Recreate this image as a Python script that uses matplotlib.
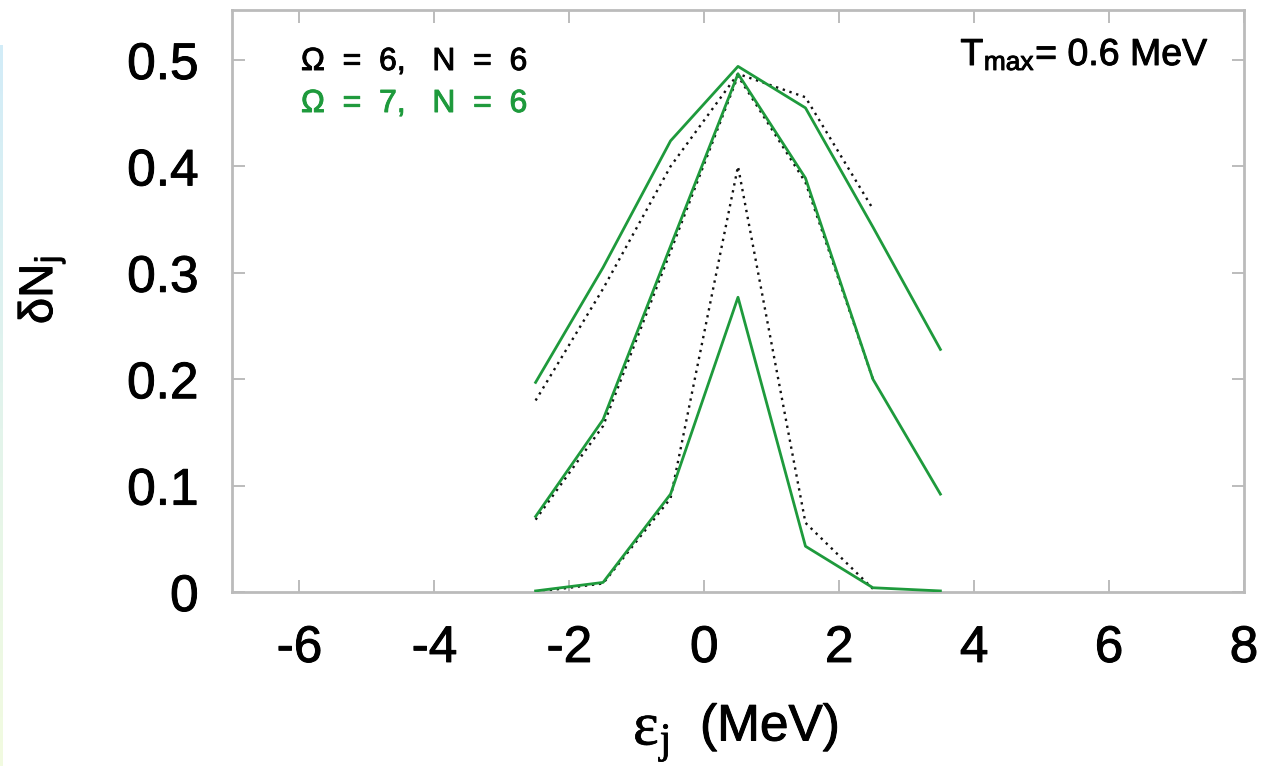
import numpy as np
import matplotlib
matplotlib.use("Agg")
import matplotlib.pyplot as plt
import matplotlib.patheffects as pe
from matplotlib.colors import LinearSegmentedColormap

plt.rcParams['font.family'] = ['Liberation Sans', 'DejaVu Sans']
plt.rcParams['mathtext.fontset'] = 'stix'

# Data: single-particle energies (MeV) and occupation fluctuations
eps7 = [-2.5, -1.5, -0.5, 0.5, 1.5, 2.5, 3.5]   # Omega = 7, N = 6 (green)
eps6 = [-2.5, -1.5, -0.5, 0.5, 1.5, 2.5]        # Omega = 6, N = 6 (black dotted)

g_top = [0.197, 0.305, 0.424, 0.494, 0.455, 0.343, 0.228]
g_mid = [0.071, 0.162, 0.325, 0.487, 0.389, 0.200, 0.092]
g_bot = [0.001, 0.009, 0.092, 0.277, 0.043, 0.004, 0.001]

d_top = [0.180, 0.285, 0.400, 0.487, 0.465, 0.360]
d_mid = [0.068, 0.156, 0.320, 0.485, 0.385, 0.200]
d_bot = [0.000, 0.008, 0.088, 0.400, 0.065, 0.003]

xticks = [-6, -4, -2, 0, 2, 4, 6, 8]
yticks = [0, 0.1, 0.2, 0.3, 0.4, 0.5]
ytick_labels = ['0', '0.1', '0.2', '0.3', '0.4', '0.5']

green = '#1e9a3c'

def heavy(color, lw=0.7):
    return [pe.withStroke(linewidth=lw, foreground=color)]

fig = plt.figure(figsize=(12.63, 7.66), dpi=100)
ax = fig.add_axes([232/1263, 1-592/766, (1244-232)/1263, (592-10)/766])

for y in (d_top, d_mid, d_bot):
    ax.plot(eps6, y, color='#111111', lw=1.7, ls=(0, (1, 2.0)), zorder=2)
for y in (g_top, g_mid, g_bot):
    ax.plot(eps7, y, color=green, lw=2.0, zorder=3)

ax.set_xlim(-7, 8)
ax.set_ylim(0, 0.547)
ax.set_xticks(xticks)
ax.set_xticklabels([str(t) for t in xticks])
ax.set_yticks(yticks)
ax.set_yticklabels(ytick_labels)
ax.tick_params(direction='in', length=9, width=1.2, color='#b0b0b0',
               top=True, right=True, labelsize=37)
ax.tick_params(axis='x', pad=23)
ax.tick_params(axis='y', pad=24)
for lab in ax.get_xticklabels() + ax.get_yticklabels():
    lab.set_path_effects(heavy('black'))
for s in ax.spines.values():
    s.set_color('#bbbbbb')
    s.set_linewidth(2)

fig.text(301/1263, 1-62/766, 'Ω  =  6,   N  =  6', fontsize=23,
         color='black', va='center', ha='left', path_effects=heavy('black'))
fig.text(301/1263, 1-104/766, 'Ω  =  7,   N  =  6', fontsize=23,
         color=green, va='center', ha='left', path_effects=heavy(green))
fig.text(1209/1263, 1-55/766, r'T$_{\mathregular{max}}$= 0.6 MeV',
         fontsize=27, ha='right', va='center', path_effects=heavy('black'))

# x label: serif epsilon with subscript j, then sans "(MeV)"
fig.text(633/1263, 1-745/766, r'ε$_{\mathregular{j}}$', family='Liberation Serif',
         fontsize=44, ha='left', va='baseline', path_effects=heavy('black', 0.5))
fig.text(700/1263, 1-727/766, '(MeV)', fontsize=37, ha='left', va='center',
         path_effects=heavy('black'))
fig.text(42/1263, 1-290/766, r'δN$_{\mathregular{j}}$', fontsize=34,
         rotation=90, ha='center', va='center', path_effects=heavy('black'))

# faint gradient strip at left edge
sax = fig.add_axes([0, 0, 3/1263, 1-45/766])
grad = np.linspace(0, 1, 256).reshape(-1, 1)
cm = LinearSegmentedColormap.from_list('s', ['#f2fbe0', '#d2ecf8'])
sax.imshow(grad, aspect='auto', cmap=cm, origin='lower')
sax.axis('off')

fig.savefig('out.png', dpi=100)
